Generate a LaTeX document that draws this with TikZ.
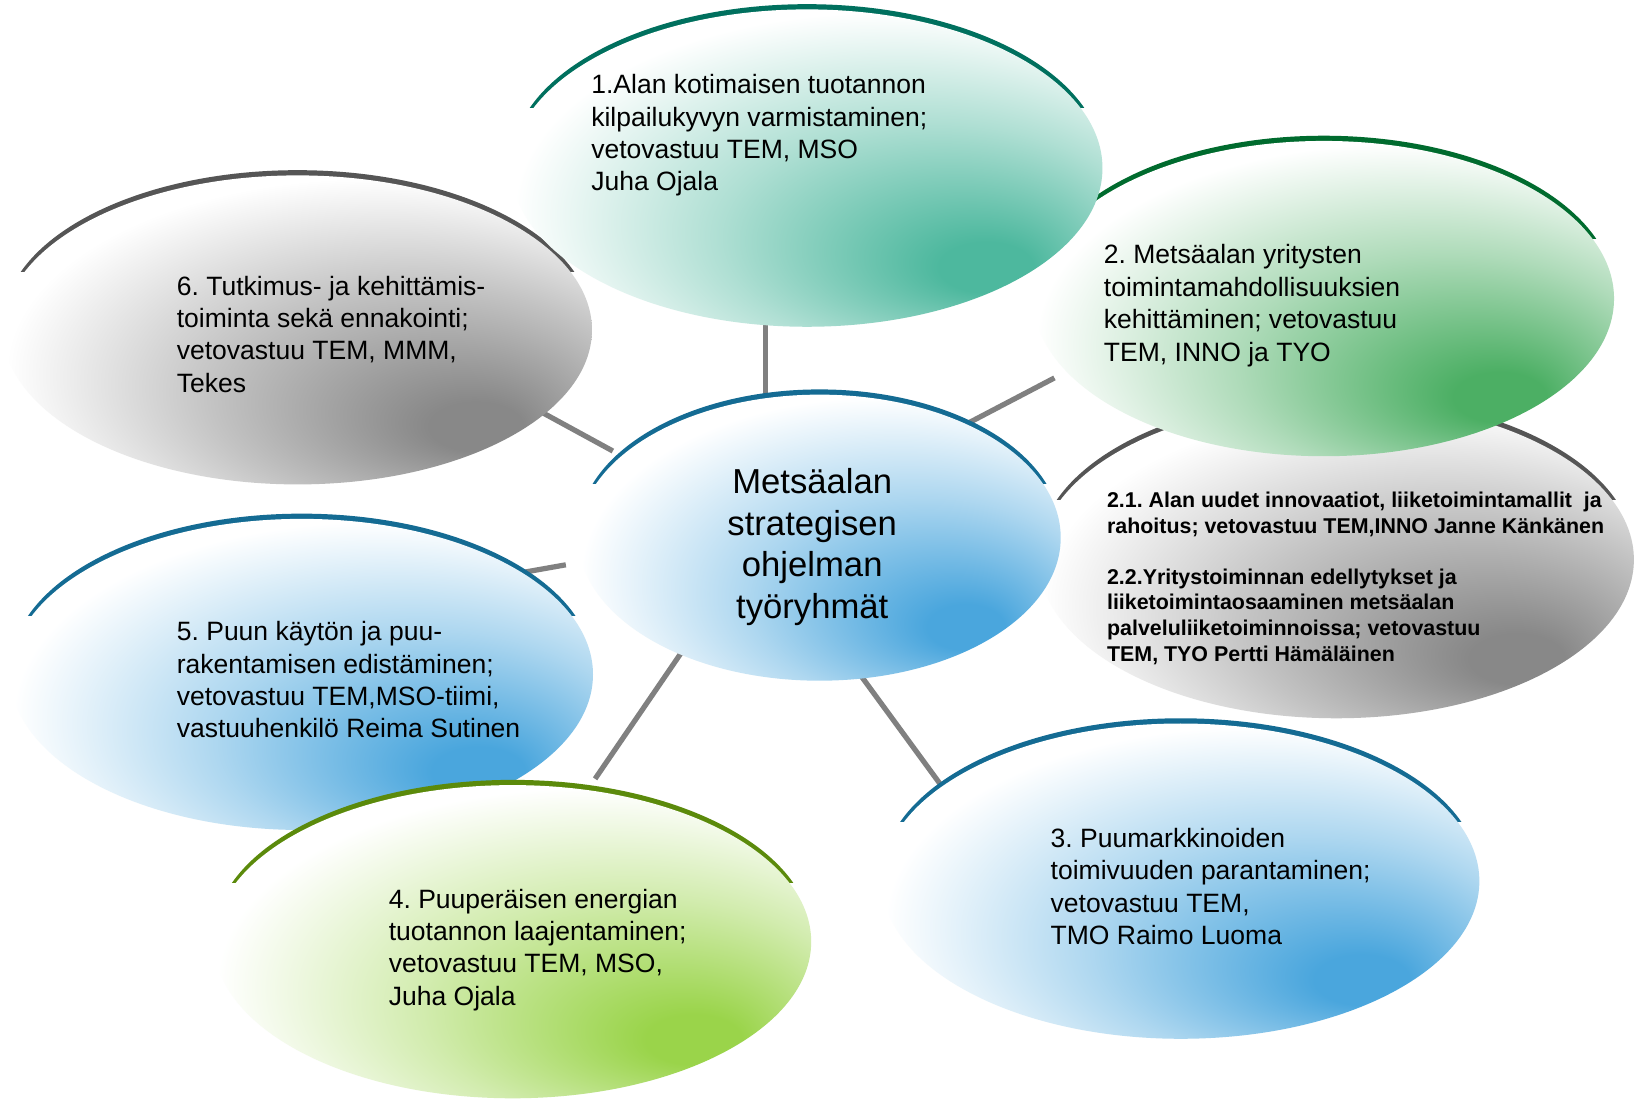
\documentclass[tikz,border=0pt]{standalone}
\usepackage{fontspec}
\setmainfont{Liberation Sans}
\usetikzlibrary{shapes.geometric}
\frenchspacing

\definecolor{linegray}{HTML}{808080}
\definecolor{tealspot}{HTML}{4DB89E}
\definecolor{tealarc}{HTML}{00705E}
\definecolor{greenspot}{HTML}{4CAF64}
\definecolor{greenarc}{HTML}{006B2E}
\definecolor{grayspot}{HTML}{888888}
\definecolor{grayarc}{HTML}{555555}
\definecolor{bluespot}{HTML}{4AA6DD}
\definecolor{bluearc}{HTML}{146B93}
\definecolor{limespot}{HTML}{9AD44A}
\definecolor{limearc}{HTML}{5B8A0B}

\pgfdeclareradialshading{shteal}{\pgfpoint{16.5bp}{-17bp}}{color(0bp)=(tealspot);color(4bp)=(tealspot);color(18bp)=(tealspot!45!white);color(31bp)=(white);color(50bp)=(white)}
\pgfdeclareradialshading{shgreen}{\pgfpoint{16.5bp}{-17bp}}{color(0bp)=(greenspot);color(4bp)=(greenspot);color(18bp)=(greenspot!45!white);color(31bp)=(white);color(50bp)=(white)}
\pgfdeclareradialshading{shgray}{\pgfpoint{16.5bp}{-17bp}}{color(0bp)=(grayspot);color(4bp)=(grayspot);color(18bp)=(grayspot!50!white);color(31bp)=(white);color(50bp)=(white)}
\pgfdeclareradialshading{shblue}{\pgfpoint{16.5bp}{-17bp}}{color(0bp)=(bluespot);color(4bp)=(bluespot);color(18bp)=(bluespot!45!white);color(31bp)=(white);color(50bp)=(white)}
\pgfdeclareradialshading{shlime}{\pgfpoint{16.5bp}{-17bp}}{color(0bp)=(limespot);color(4bp)=(limespot);color(18bp)=(limespot!45!white);color(31bp)=(white);color(50bp)=(white)}

\tikzset{
  blob/.style={ellipse, inner sep=0pt, draw=none},
  conn/.style={draw=linegray, line width=2.5pt},
  lbl/.style={anchor=north west, align=left, inner sep=0pt, font=\fontsize{12.7pt}{15.5pt}\selectfont},
  sublbl/.style={anchor=north west, align=left, inner sep=0pt, font=\fontsize{10.25pt}{12.25pt}\selectfont\bfseries},
  ctrlbl/.style={anchor=north, align=center, inner sep=0pt, font=\fontsize{16.6pt}{20pt}\selectfont}
}

% name, cx, cy, rx, ry, arc colour, shading
\newcommand{\mkblob}[7]{%
  \begin{scope}
    \clip (#2-#4-20,#3-#5-20) rectangle (#2+#4+20,#3-0.38*#5);
    \node[blob, fill=#6, minimum width=#4pt, minimum height=#5pt] (#1arc) at (#2,#3-5) {};
  \end{scope}
  \node[blob, shade, shading=#7, minimum width=#4pt, minimum height=#5pt] (#1) at (#2,#3) {};
}

\begin{document}
\begin{tikzpicture}[x=0.5pt, y=-0.5pt]
\fill[white] (0,0) rectangle (1568,1053);
\useasboundingbox (0,0) rectangle (1568,1053);

% connector end points
\coordinate (l1a) at (733,300);
\coordinate (l1b) at (733,395);
\coordinate (l2a) at (905,417);
\coordinate (l2b) at (1010,362);
\coordinate (l6a) at (510,390);
\coordinate (l6b) at (587,432);
\coordinate (l5a) at (480,552);
\coordinate (l5b) at (542,541);
\coordinate (l4a) at (570,746);
\coordinate (l4b) at (652,626);
\coordinate (l3a) at (823,645);
\coordinate (l3b) at (902,753);

\draw[conn] (l1a) -- (l1b);
\draw[conn] (l2a) -- (l2b);
\draw[conn] (l6a) -- (l6b);
\draw[conn] (l5a) -- (l5b);
\draw[conn] (l4a) -- (l4b);
\draw[conn] (l3a) -- (l3b);

\mkblob{n6}{285}{316}{282}{148}{grayarc}{shgray}
\mkblob{n21}{1280}{536}{285}{152}{grayarc}{shgray}
\mkblob{n2}{1268}{286}{278}{151}{greenarc}{shgreen}
\mkblob{n1}{773}{161}{283}{152}{tealarc}{shteal}
\mkblob{n5}{289}{646}{279}{149}{bluearc}{shblue}
\mkblob{nc}{785}{515}{231}{137}{bluearc}{shblue}
\mkblob{n3}{1131}{844}{286}{151}{bluearc}{shblue}
\mkblob{n4}{491}{902}{286}{150}{limearc}{shlime}

\node[lbl] (t1) at (566,71) {1.Alan kotimaisen tuotannon\\kilpailukyvyn varmistaminen;\\vetovastuu TEM, MSO\\Juha Ojala};
\node[lbl] (t6) at (169,264) {6. Tutkimus- ja kehittämis-\\toiminta sekä ennakointi;\\vetovastuu TEM, MMM,\\Tekes};
\node[lbl] (t2) at (1057,234) {2. Metsäalan yritysten\\toimintamahdollisuuksien\\kehittäminen; vetovastuu\\TEM, INNO ja TYO};
\node[sublbl] (t21) at (1060,471) {2.1. Alan uudet innovaatiot, liiketoimintamallit\ \ ja\\rahoitus; vetovastuu TEM,INNO Janne Känkänen\\[12.25pt]2.2.Yritystoiminnan edellytykset ja\\liiketoimintaosaaminen metsäalan\\palveluliiketoiminnoissa; vetovastuu\\TEM, TYO Pertti Hämäläinen};
\node[ctrlbl] (tc) at (778,448) {Metsäalan\\strategisen\\ohjelman\\työryhmät};
\node[lbl] (t5) at (169,595) {5. Puun käytön ja puu-\\rakentamisen edistäminen;\\vetovastuu TEM,MSO-tiimi,\\vastuuhenkilö Reima Sutinen};
\node[lbl] (t4) at (372,851) {4. Puuperäisen energian\\tuotannon laajentaminen;\\vetovastuu TEM, MSO,\\Juha Ojala};
\node[lbl] (t3) at (1006,793) {3. Puumarkkinoiden\\toimivuuden parantaminen;\\vetovastuu TEM,\\TMO Raimo Luoma};
\end{tikzpicture}
\end{document}
